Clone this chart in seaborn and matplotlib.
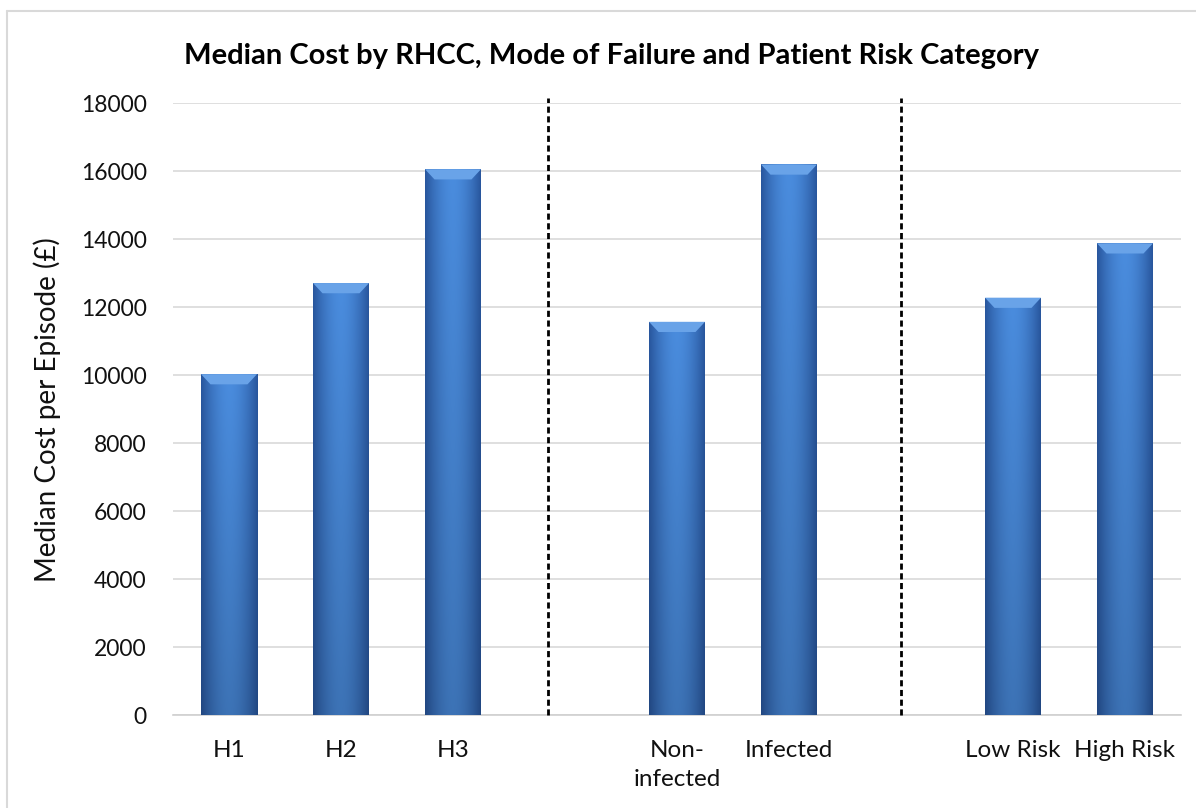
import numpy as np
import pandas as pd
import matplotlib
matplotlib.use("Agg")
import matplotlib.pyplot as plt
import seaborn as sns
from matplotlib.patches import Polygon
from matplotlib.lines import Line2D

# data
groups = ["H1", "H2", "H3", "Non-\ninfected", "Infected", "Low Risk", "High Risk"]
costs = [10030, 12710, 16060, 11570, 16200, 12280, 13880]
# blank slots separate the three panels
order = ["H1", "H2", "H3", " ", "Non-\ninfected", "Infected", "  ", "Low Risk", "High Risk"]
divider_pos = [2.85, 6.0]
yticks = list(range(0, 18001, 2000))

df = pd.DataFrame({"group": groups, "cost": costs})

sns.set_style("white")
plt.rcParams["font.family"] = ["Lato", "DejaVu Sans"]

fig = plt.figure(figsize=(11.96, 8.08), dpi=100)
ax = fig.add_axes([173/1196, 1-715/808, (1181-173)/1196, (715-103.3)/808])

sns.barplot(data=df, x="group", y="cost", order=order, color="#3f7fd0",
            width=0.5, saturation=1, errorbar=None, ax=ax, zorder=3)

# cylinder-ish shading for each bar
light = np.array([0.29, 0.55, 0.87])
dark = np.array([0.16, 0.34, 0.62])
xs = np.linspace(0, 1, 64)
hx = np.abs(xs - 0.5) * 2
prof = (hx ** 1.8)[None, :, None]
ys = np.linspace(1, 0, 64)[:, None, None]
img = light * (1 - prof) + dark * prof
img = img * (0.82 + 0.18 * ys)
img = np.clip(img, 0, 1)

for bar in list(ax.patches):
    x0, y0 = bar.get_x(), bar.get_y()
    w, h = bar.get_width(), bar.get_height()
    if not np.isfinite(h) or h == 0:
        continue
    bar.set_edgecolor("none")
    im = ax.imshow(img, extent=[x0, x0 + w, y0, y0 + h], aspect="auto",
                   zorder=4, interpolation="bilinear")
    im.set_clip_path(bar)
    dx, dy = 0.085, 300
    top = y0 + h
    ax.add_patch(Polygon([[x0, top], [x0 + w, top], [x0 + w - dx, top - dy],
                          [x0 + dx, top - dy]], closed=True,
                         facecolor="#69a3e8", edgecolor="none", zorder=5))

ax.set_xlim(-0.5, len(order) - 0.5)
ax.set_ylim(0, 18000)
ax.set_yticks(yticks)
ax.set_yticklabels([str(v) for v in yticks])
ax.yaxis.grid(True, color="#d9d9d9", lw=1.2, zorder=0)
ax.set_axisbelow(True)
for s in ["top", "right", "left"]:
    ax.spines[s].set_visible(False)
ax.spines["bottom"].set_color("#d0d0d0")
ax.spines["bottom"].set_linewidth(1.2)
ax.tick_params(axis="y", length=0, labelsize=16.5, colors="#111111", pad=19)
ax.tick_params(axis="x", length=0, labelsize=17.5, colors="#111111", pad=18)
for lab in ax.get_xticklabels():
    lab.set_linespacing(1.45)
    lab.set_verticalalignment("top")

ax.set_xlabel("")
ax.set_ylabel("Median Cost per Episode (£)", fontsize=20, color="#111111", labelpad=14)

for xv in divider_pos:
    ax.vlines(xv, 0, 18150, colors="black", lw=2.0,
              linestyles=(0, (2.2, 1.3)), zorder=6, clip_on=False)

fig.text(0.511, 1 - 56/808, "Median Cost by RHCC, Mode of Failure and Patient Risk Category",
         ha="center", va="center", fontsize=21, fontweight="bold", color="black")

# outer chart frame (only top and left visible)
fig.add_artist(Line2D([7/1196, 7/1196], [0, 1 - 11/808], transform=fig.transFigure,
                      color="#d9d9d9", lw=1.5))
fig.add_artist(Line2D([7/1196, 1], [1 - 11/808, 1 - 11/808], transform=fig.transFigure,
                      color="#d9d9d9", lw=1.5))

fig.savefig("out.png", dpi=100, facecolor="white")
